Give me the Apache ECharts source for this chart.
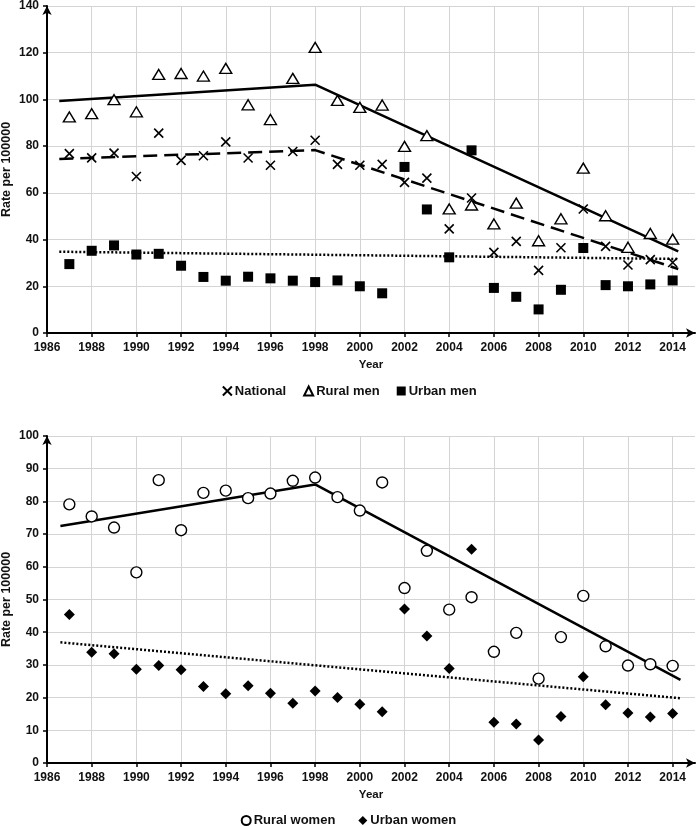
<!DOCTYPE html>
<html>
<head>
<meta charset="utf-8">
<script src="https://cdn.jsdelivr.net/npm/echarts@6/dist/echarts.min.js"></script>
<style>html,body{margin:0;padding:0;background:#fff}#c{width:697px;height:826px}</style>
</head>
<body>
<div id="c"></div>
<script>
const years = [1987,1988,1989,1990,1991,1992,1993,1994,1995,1996,1997,1998,1999,2000,2001,2002,2003,2004,2005,2006,2007,2008,2009,2010,2011,2012,2013,2014];
const nationalRate = [76.8,75.0,77.0,67.0,85.6,73.9,75.9,81.8,74.9,71.8,77.7,82.5,72.2,71.8,72.2,64.5,66.3,44.6,57.8,34.5,39.2,26.8,36.5,53.1,37.1,29.1,31.4,30.2];
const ruralMen = [92.5,93.9,99.9,94.7,110.7,111.1,110.0,113.3,97.7,91.4,109.0,122.3,99.6,96.6,97.6,79.9,84.5,53.1,54.8,46.7,55.6,39.5,48.9,70.6,50.2,36.7,42.6,40.2];
const urbanMen = [29.5,35.2,37.5,33.6,33.9,28.8,24.0,22.4,24.1,23.4,22.4,21.8,22.5,20.0,17.0,71.1,52.9,32.4,78.2,19.3,15.5,10.1,18.5,36.4,20.5,20.0,20.8,22.5];
const ruralWomen = [79.1,75.4,72.0,58.3,86.5,71.2,82.6,83.3,81.0,82.4,86.3,87.3,81.3,77.2,85.8,53.5,64.9,46.9,50.7,34.0,39.8,25.8,38.5,51.1,35.7,29.8,30.2,29.7];
const urbanWomen = [45.4,33.9,33.4,28.7,29.8,28.5,23.4,21.2,23.6,21.3,18.3,22.0,20.0,18.0,15.7,47.1,38.8,28.9,65.4,12.5,11.9,7.0,14.2,26.4,17.8,15.3,14.1,15.1];

// fitted trend lines (joinpoint at 1998)
const menTrendYears = [1986.55, 1998, 2014.25];
const ruralMenTrend = [99.3, 106.3, 34.9];
const nationalTrend = [74.5, 78.3, 27.4];
const urbanMenTrendYears = [1986.55, 2014.25];
const urbanMenTrend = [34.8, 31.7];
const womenTrendYears = [1986.6, 1998, 2014.35];
const ruralWomenTrend = [72.5, 85.2, 25.4];
const urbanWomenTrendYears = [1986.6, 2014.35];
const urbanWomenTrend = [36.9, 19.8];

const FONT = "'Liberation Sans', Arial, sans-serif";
const pairs = (xs, ys) => xs.map((x, i) => [x, ys[i]]);

function xAxisCfg(gi) {
  return {
    type: 'value', gridIndex: gi, min: 1986, max: 2015, interval: 2,
    name: 'Year', nameLocation: 'middle', nameGap: 26, nameMoveOverlap: false,
    nameTextStyle: {fontFamily: FONT, fontWeight: 'bold', fontSize: 11.5, color: '#111'},
    axisLine: {show: true, onZero: false, lineStyle: {color: '#000', width: 2}, symbol: ['none', 'arrow'], symbolSize: [7, 9]},
    axisTick: {show: true, length: 4, lineStyle: {color: '#000', width: 1.5}},
    axisLabel: {fontFamily: FONT, fontWeight: 'bold', fontSize: 12, color: '#111', margin: 9, showMaxLabel: false,
                formatter: v => String(v)},
    splitLine: {show: true, showMaxLine: false, lineStyle: {color: '#d4d4d4', width: 1}}
  };
}
function yAxisCfg(gi, max, interval) {
  return {
    type: 'value', gridIndex: gi, min: 0, max: max, interval: interval,
    name: 'Rate per 100000', nameLocation: 'middle', nameGap: 34, nameMoveOverlap: false,
    nameTextStyle: {fontFamily: FONT, fontWeight: 'bold', fontSize: 12.5, color: '#111'},
    axisLine: {show: true, lineStyle: {color: '#000', width: 2}, symbol: ['none', 'arrow'], symbolSize: [7, 9]},
    axisTick: {show: true, length: 4, lineStyle: {color: '#000', width: 1.5}},
    axisLabel: {fontFamily: FONT, fontWeight: 'bold', fontSize: 12, color: '#111', margin: 8},
    splitLine: {show: true, lineStyle: {color: '#d4d4d4', width: 1}}
  };
}

const xPath = 'path://M0,0L10,10M10,0L0,10';
const lineSeries = (name, xi, xs, ys, type, w) => ({
  name: name, type: 'line', xAxisIndex: xi, yAxisIndex: xi,
  data: pairs(xs, ys), showSymbol: false, symbol: 'none', silent: true, z: 1,
  lineStyle: {color: '#000', width: w, type: type}
});

const legendText = {fontFamily: FONT, fontWeight: 'bold', fontSize: 13, color: '#111', padding: [0, 0, 0, -2]};
const option = {
  animation: false,
  backgroundColor: '#fff',
  textStyle: {fontFamily: FONT},
  grid: [
    {left: 47, right: 2, top: 6, height: 327, containLabel: false, outerBoundsMode: 'none'},
    {left: 47, right: 2, top: 436, height: 327, containLabel: false, outerBoundsMode: 'none'}
  ],
  xAxis: [xAxisCfg(0), xAxisCfg(1)],
  yAxis: [yAxisCfg(0, 140, 20), yAxisCfg(1, 100, 10)],
  legend: [
    {data: ['National', 'Rural men', 'Urban men'], top: 384, left: 'center', padding: 0, itemWidth: 9, itemHeight: 9, itemGap: 17,
     textStyle: legendText},
    {data: ['Rural women', 'Urban women'], top: 814, left: 'center', padding: 0, itemWidth: 9, itemHeight: 9, itemGap: 23,
     textStyle: legendText}
  ],
  series: [
    lineSeries('Rural men trend', 0, menTrendYears, ruralMenTrend, 'solid', 2.5),
    lineSeries('National trend', 0, menTrendYears, nationalTrend, [14, 7], 2.5),
    lineSeries('Urban men trend', 0, urbanMenTrendYears, urbanMenTrend, [2, 2], 2.5),
    lineSeries('Rural women trend', 1, womenTrendYears, ruralWomenTrend, 'solid', 2.5),
    lineSeries('Urban women trend', 1, urbanWomenTrendYears, urbanWomenTrend, [2, 2], 2.5),
    {name: 'National', type: 'scatter', xAxisIndex: 0, yAxisIndex: 0, data: pairs(years, nationalRate),
     symbol: xPath, symbolSize: 9, z: 3, itemStyle: {color: 'none', borderColor: '#000', borderWidth: 1.6, opacity: 1}},
    {name: 'Rural men', type: 'scatter', xAxisIndex: 0, yAxisIndex: 0, data: pairs(years, ruralMen),
     symbol: 'triangle', symbolSize: [12, 10], z: 3, itemStyle: {color: '#fff', borderColor: '#000', borderWidth: 1.4, opacity: 1}},
    {name: 'Urban men', type: 'scatter', xAxisIndex: 0, yAxisIndex: 0, data: pairs(years, urbanMen),
     symbol: 'rect', symbolSize: 10, z: 3, itemStyle: {color: '#000', opacity: 1}},
    {name: 'Rural women', type: 'scatter', xAxisIndex: 1, yAxisIndex: 1, data: pairs(years, ruralWomen),
     symbol: 'circle', symbolSize: 11, z: 3, itemStyle: {color: '#fff', borderColor: '#000', borderWidth: 1.4, opacity: 1}},
    {name: 'Urban women', type: 'scatter', xAxisIndex: 1, yAxisIndex: 1, data: pairs(years, urbanWomen),
     symbol: 'diamond', symbolSize: 11, z: 3, itemStyle: {color: '#000', opacity: 1}}
  ]
};
const chart = echarts.init(document.getElementById('c'), null, {renderer: 'canvas'});
chart.setOption(option);
</script>
</body>
</html>
